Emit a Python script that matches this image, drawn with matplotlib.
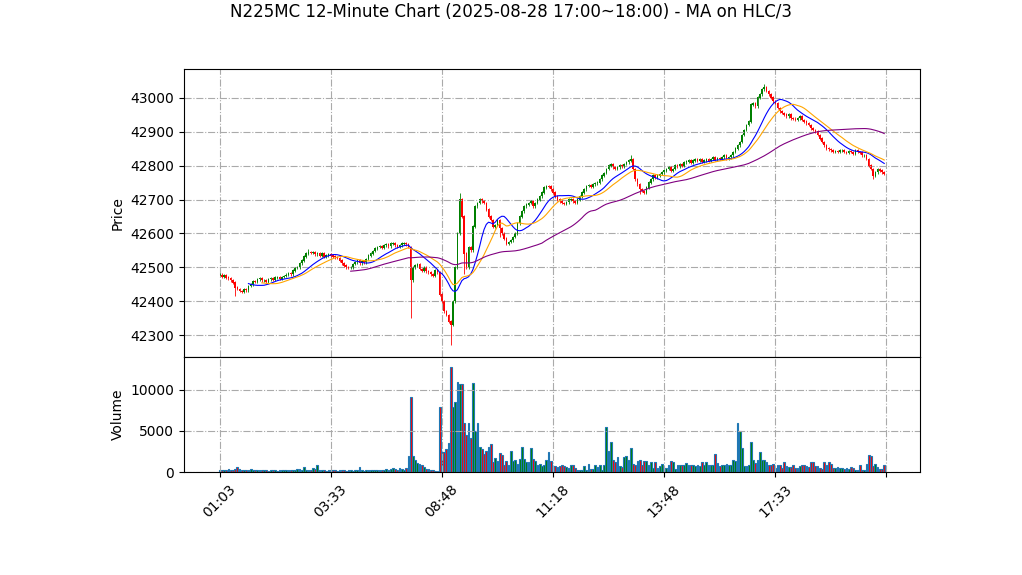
import numpy as np
import pandas as pd
import matplotlib
matplotlib.use("Agg")
import matplotlib.pyplot as plt

TITLE = "N225MC 12-Minute Chart (2025-08-28 17:00~18:00) - MA on HLC/3"
TICK_POS = [0, 50, 100, 150, 200, 250, 300]
TICK_LABELS = ["01:03", "03:33", "08:48", "11:18", "13:48", "17:33", ""]

CLOSE = [
    42478, 42472, 42476, 42470, 42468, 42462, 42455, 42440, 42436, 42430,
    42428, 42435, 42432, 42445, 42450, 42460, 42458, 42465, 42468, 42462,
    42462, 42458, 42465, 42468, 42463, 42470, 42470, 42466, 42472, 42475,
    42478, 42482, 42480, 42490, 42498, 42500, 42512, 42520, 42532, 42540,
    42545, 42542, 42545, 42538, 42540, 42535, 42540, 42532, 42535, 42538,
    42535, 42532, 42530, 42528, 42520, 42512, 42505, 42500, 42498, 42500,
    42510, 42515, 42520, 42512, 42518, 42515, 42525, 42535, 42540, 42548,
    42555, 42560, 42562, 42558, 42565, 42568, 42562, 42570, 42572, 42565,
    42560, 42565, 42570, 42572, 42568, 42560, 42462, 42500, 42505, 42510,
    42495, 42490, 42500, 42488, 42485, 42480, 42475, 42490, 42485, 42420,
    42400, 42370, 42360, 42340, 42330, 42400, 42500, 42600, 42700, 42650,
    42540, 42500, 42560, 42550, 42620, 42680, 42690, 42700, 42695, 42690,
    42670, 42650, 42640, 42620, 42625, 42640, 42615, 42600, 42585, 42570,
    42575, 42580, 42590, 42600, 42630, 42650, 42665, 42680, 42685, 42690,
    42695, 42680, 42690, 42700, 42710, 42720, 42735, 42740, 42738, 42730,
    42720, 42710, 42700, 42695, 42690, 42688, 42692, 42700, 42700, 42695,
    42690, 42700, 42710, 42720, 42730, 42740, 42742, 42738, 42745, 42748,
    42750, 42760, 42770, 42778, 42790, 42800, 42805, 42795, 42790, 42795,
    42800, 42798, 42805, 42810, 42815, 42820, 42790, 42760, 42745, 42730,
    42725, 42720, 42735, 42750, 42760, 42770, 42765, 42770, 42775, 42780,
    42785, 42790, 42795, 42785, 42790, 42800, 42798, 42805, 42800, 42810,
    42812, 42815, 42808, 42815, 42818, 42815, 42820, 42812, 42815, 42818,
    42815, 42820, 42825, 42818, 42822, 42820, 42825, 42830, 42822, 42825,
    42830, 42840, 42850, 42860, 42870, 42890, 42905, 42920, 42930, 42980,
    42985, 42975, 43000, 43010, 43025, 43030, 43020, 43010, 43000, 42990,
    42985, 42970, 42960, 42955, 42950, 42945, 42950, 42940, 42938, 42935,
    42940, 42945, 42935, 42930, 42925, 42920, 42910, 42905, 42900, 42890,
    42880, 42870, 42860, 42850, 42848, 42845, 42840, 42842, 42840, 42845,
    42845, 42840, 42838, 42842, 42840, 42835, 42845, 42840, 42838, 42830,
    42830, 42820, 42800, 42790, 42770, 42780, 42790, 42785, 42780, 42775,
]
# notable wicks (bar index -> price)
LOW_WICKS = {7: 42415, 86: 42350, 104: 42270, 110: 42480, 126: 42590, 189: 42715, 294: 42760}
HIGH_WICKS = {108: 42720, 185: 42830, 245: 43040, 40: 42555}

VOLUME = [
    200, 300, 300, 200, 400, 300, 200, 400, 650, 400,
    300, 200, 300, 200, 350, 250, 200, 300, 200, 200,
    250, 200, 150, 300, 300, 200, 150, 200, 300, 200,
    200, 250, 300, 300, 250, 350, 400, 250, 650, 300,
    200, 200, 500, 400, 800, 200, 200, 250, 150, 200,
    200, 250, 200, 150, 300, 200, 250, 150, 200, 200,
    150, 200, 250, 600, 200, 150, 200, 200, 250, 200,
    200, 300, 250, 200, 300, 400, 300, 350, 500, 400,
    300, 500, 400, 300, 500, 2000, 9100, 2000, 1450, 1100,
    1000, 800, 600, 400, 400, 300, 200, 100, 100, 7900,
    2500, 2500, 2800, 3500, 12800, 7900, 8500, 11000, 10700, 10700,
    6000, 4500, 6000, 4200, 10800, 5000, 6000, 3000, 2800, 2200,
    2600, 3000, 3400, 1200, 1700, 1400, 2300, 2100, 900, 1400,
    900, 2600, 1300, 1500, 1000, 1600, 3100, 1600, 1200, 1200,
    2900, 1600, 1300, 900, 1000, 700, 800, 1500, 2500, 1300,
    700, 700, 600, 700, 800, 700, 600, 500, 800, 800,
    500, 300, 300, 300, 700, 200, 1000, 400, 400, 800,
    600, 800, 300, 900, 5500, 2600, 3600, 1500, 1200, 1800,
    700, 600, 1800, 2000, 1500, 2900, 1000, 800, 1300, 1500,
    800, 1300, 1400, 800, 1200, 500, 1200, 500, 700, 1000,
    500, 500, 800, 1400, 1200, 400, 800, 800, 800, 800,
    1100, 900, 800, 800, 700, 900, 700, 1200, 800, 1200,
    800, 800, 800, 2200, 1100, 700, 900, 900, 1000, 900,
    800, 1500, 1400, 6000, 5000, 2900, 700, 700, 800, 3600,
    1500, 1100, 1500, 2500, 1500, 1500, 1200, 800, 800, 1000,
    500, 800, 900, 500, 1200, 700, 600, 600, 800, 500,
    500, 700, 800, 900, 700, 600, 1200, 1200, 700, 700,
    500, 400, 1200, 800, 1200, 1000, 500, 500, 600, 500,
    500, 400, 500, 400, 600, 500, 300, 300, 800, 300,
    300, 1000, 2100, 1900, 700, 1000, 600, 400, 400, 800,
]

MA_WINDOWS = [(14, "blue"), (20, "orange"), (60, "purple")]

close = np.array(CLOSE, dtype=float)
opn = np.r_[close[0], close[:-1]]
high = np.maximum(opn, close) + 4
low = np.minimum(opn, close) - 4
for k, v in LOW_WICKS.items():
    low[k] = v
for k, v in HIGH_WICKS.items():
    high[k] = v
idx = np.arange(len(close))
up = close >= opn

fig = plt.figure(figsize=(10.22, 5.75), dpi=100)
gs = fig.add_gridspec(2, 1, height_ratios=[2.5, 1], hspace=0,
                      left=0.18, right=0.9, top=0.88, bottom=0.179)
ax = fig.add_subplot(gs[0])
axv = fig.add_subplot(gs[1], sharex=ax)

cols = np.where(up, "green", "red")
ax.vlines(idx, low, high, colors=cols, lw=0.6)
ax.bar(idx, np.abs(close - opn) + 1, bottom=np.minimum(opn, close), width=0.7, color=cols)

hlc3 = pd.Series((high + low + close) / 3)
for w, c in MA_WINDOWS:
    ax.plot(idx, hlc3.rolling(w).mean(), color=c, lw=0.8)

ax.set_ylabel("Price")
ax.set_ylim(42236, 43085)
ax.grid(True, ls="-.", color="#aaaaaa")
plt.setp(ax.get_xticklabels(), visible=False)

axv.bar(idx, VOLUME, width=0.8, color=cols, edgecolor="#1f77b4", lw=0.8)
axv.set_ylabel("Volume")
axv.set_ylim(0, 14000)
axv.grid(True, ls="-.", color="#aaaaaa")
axv.set_xlim(-16, 315)
axv.set_xticks(TICK_POS)
axv.set_xticklabels(TICK_LABELS, rotation=45)

fig.suptitle(TITLE, y=0.995)
fig.savefig("out.png", dpi=100)
